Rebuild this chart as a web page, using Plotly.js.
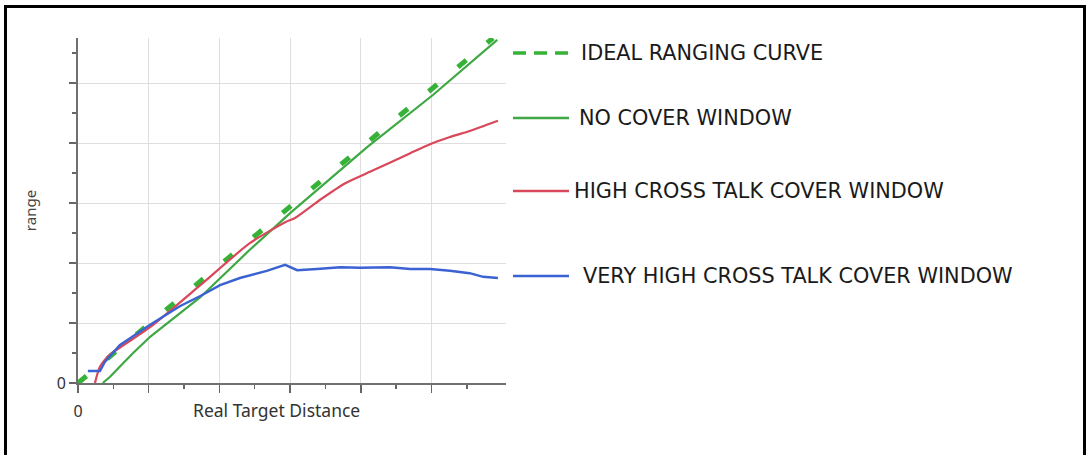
<!DOCTYPE html>
<html>
<head>
<meta charset="utf-8">
<script src="https://cdn.plot.ly/plotly-3.0.1.min.js"></script>
<style>
  html, body { margin: 0; padding: 0; background: #fff; overflow: hidden; }
  #chart { width: 1086px; height: 455px; position: absolute; left: 0; top: 0; }
  #frame { position: absolute; left: 4px; top: 5px; width: 1076px; height: 470px;
           border: 3px solid #000; pointer-events: none; }
</style>
</head>
<body>
<div id="chart"></div>
<div id="frame"></div>
<script>
// ---- data ----
const seriesNames = [
  "IDEAL RANGING CURVE",
  "NO COVER WINDOW",
  "HIGH CROSS TALK COVER WINDOW",
  "VERY HIGH CROSS TALK COVER WINDOW"
];

const idealX = [0, 5.87];
const idealY = [0, 5.75];

const noCoverX = [0.35, 0.45, 0.59, 0.78, 1.02, 1.73, 2.43, 3.00, 4.09, 5.02, 5.93];
const noCoverY = [0.00, 0.10, 0.27, 0.50, 0.77, 1.43, 2.22, 2.83, 3.93, 4.80, 5.72];

const highX = [0.24, 0.31, 0.45, 1.02, 1.73, 2.43, 2.93, 3.07, 3.42, 3.78, 4.13, 4.41, 4.70, 4.98, 5.26, 5.54, 5.94];
const highY = [0.00, 0.27, 0.47, 0.93, 1.63, 2.33, 2.68, 2.75, 3.05, 3.33, 3.52, 3.67, 3.83, 3.98, 4.10, 4.20, 4.37];

const veryHighX = [0.14, 0.31, 0.38, 0.59, 1.02, 1.44, 1.73, 2.01, 2.29, 2.67, 2.93, 3.10, 3.38, 3.71, 3.99, 4.41, 4.70, 4.98, 5.26, 5.54, 5.73, 5.94];
const veryHighY = [0.20, 0.20, 0.35, 0.63, 0.97, 1.28, 1.45, 1.63, 1.75, 1.87, 1.97, 1.88, 1.90, 1.93, 1.92, 1.93, 1.90, 1.90, 1.87, 1.83, 1.77, 1.75];

const xTickVals = [0, 1, 2, 3, 4, 5];
const xTickText = ["0", "", "", "", "", ""];
const xMinorVals = [0.5, 1.5, 2.5, 3.5, 4.5, 5.5];
const yTickVals = [0, 1, 2, 3, 4, 5];
const yTickText = ["0", "", "", "", "", ""];
const yMinorVals = [0.5, 1.5, 2.5, 3.5, 4.5, 5.5];

const xTitle = "Real Target Distance";
const yTitle = "range";

// ---- styles ----
const colors = ["#36b336", "#3fa844", "#d9475a", "#3b62d3"];

const traces = [
  { x: idealX, y: idealY, name: seriesNames[0], mode: "lines",
    line: { color: colors[0], width: 5, dash: "11px,27px" } },
  { x: noCoverX, y: noCoverY, name: seriesNames[1], mode: "lines",
    line: { color: colors[1], width: 2.2 } },
  { x: highX, y: highY, name: seriesNames[2], mode: "lines", line: { color: colors[2], width: 2.2, shape: "spline", smoothing: 0.6 } },
  { x: veryHighX, y: veryHighY, name: seriesNames[3], mode: "lines",
    line: { color: colors[3], width: 2.4 } }
];

// legend drawn beside the plot (paper coordinates)
const PW = 428, PH = 345, L = 78, T = 38;
const px = v => (v - L) / PW;
const py = v => (T + PH - v) / PH;
const legendRows = [53, 118, 191, 276];
const legendTextX = [579, 577, 572, 581];
const legendDash = ["13px,8px", "solid", "solid", "solid"];

const shapes = [];
const annotations = [];
seriesNames.forEach((n, i) => {
  shapes.push({ type: "line", xref: "paper", yref: "paper",
    x0: px(513), x1: px(569), y0: py(legendRows[i]), y1: py(legendRows[i]),
    line: { color: colors[i], width: i === 0 ? 3.5 : 2.6, dash: legendDash[i] } });
  annotations.push({ xref: "paper", yref: "paper", x: px(legendTextX[i]), y: py(legendRows[i]),
    xanchor: "left", yanchor: "middle", showarrow: false, text: n,
    font: { family: "DejaVu Sans", size: 20.8, color: "#1a1a1a" } });
});
annotations.push({ xref: "paper", yref: "paper", x: px(276), y: py(410),
  xanchor: "center", yanchor: "middle", showarrow: false, text: xTitle,
  font: { family: "Noto Sans", size: 17.5, color: "#333" } });

const layout = {
  width: 1086, height: 455,
  margin: { l: L, r: 1086 - L - PW, t: T, b: 455 - T - PH, pad: 0 },
  paper_bgcolor: "#fff", plot_bgcolor: "#fff",
  showlegend: false,
  font: { family: "Noto Sans", color: "#444" },
  xaxis: {
    range: [0, 6.054], tickmode: "array", tickvals: xTickVals, ticktext: xTickText,
    ticks: "outside", ticklen: 8, tickwidth: 1.5, tickcolor: "#666",
    ticklabelstandoff: 5,
    tickfont: { family: "Noto Sans", size: 16, color: "#333" },
    showline: true, linecolor: "#707070", linewidth: 2,
    showgrid: true, gridcolor: "#dedede", gridwidth: 1, zeroline: false,
    minor: { tickmode: "array", tickvals: xMinorVals, ticks: "outside", ticklen: 4,
             tickwidth: 1.5, tickcolor: "#666", showgrid: false },
    fixedrange: true
  },
  yaxis: {
    range: [0, 5.75], tickmode: "array", tickvals: yTickVals, ticktext: yTickText,
    ticks: "outside", ticklen: 7, tickwidth: 1.5, tickcolor: "#666",
    tickfont: { family: "Noto Sans", size: 16, color: "#333" },
    showline: true, linecolor: "#707070", linewidth: 2,
    showgrid: true, gridcolor: "#dedede", gridwidth: 1, zeroline: false,
    minor: { tickmode: "array", tickvals: yMinorVals, ticks: "outside", ticklen: 4,
             tickwidth: 1.5, tickcolor: "#666", showgrid: false },
    title: { text: yTitle, standoff: 16, font: { family: "Noto Sans", size: 15, color: "#444" } },
    fixedrange: true
  },
  shapes: shapes,
  annotations: annotations
};

Plotly.newPlot("chart", traces, layout, { staticPlot: true, displayModeBar: false });
</script>
</body>
</html>
